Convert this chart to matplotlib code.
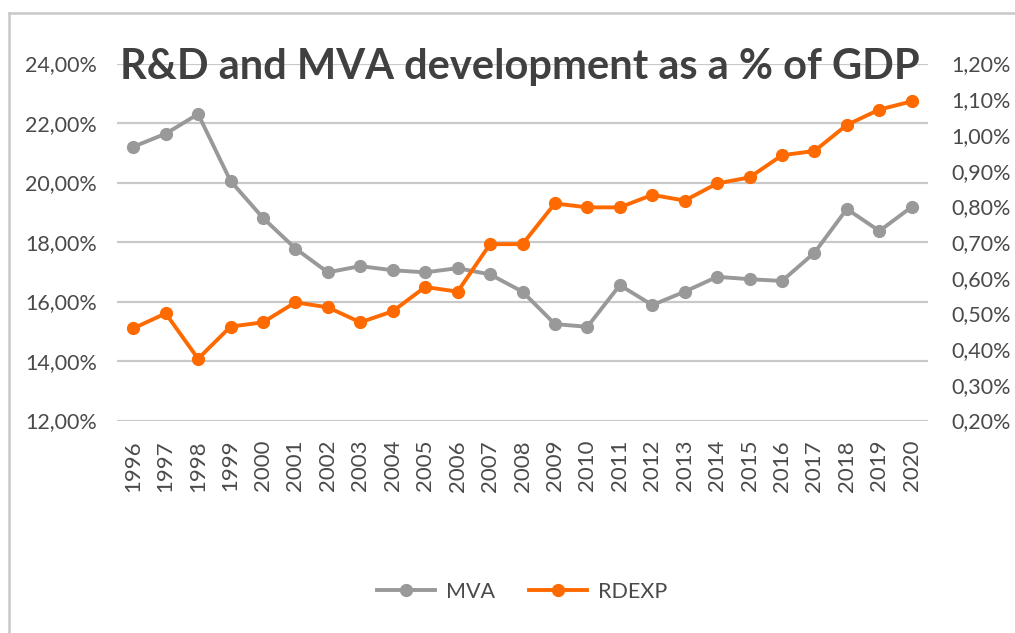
import matplotlib
matplotlib.use("Agg")
import matplotlib.pyplot as plt
from matplotlib.lines import Line2D
from matplotlib.ticker import FuncFormatter, MultipleLocator

years = [str(y) for y in range(1996, 2021)]
mva = [21.20, 21.64, 22.30, 20.05, 18.81, 17.78, 16.98, 17.19, 17.05, 16.98,
       17.12, 16.91, 16.33, 15.24, 15.15, 16.55, 15.88, 16.33, 16.83, 16.75,
       16.69, 17.64, 19.11, 18.37, 19.18]
rdexp = [0.458, 0.500, 0.373, 0.463, 0.475, 0.531, 0.517, 0.475, 0.506, 0.574,
         0.561, 0.694, 0.694, 0.808, 0.797, 0.797, 0.832, 0.816, 0.864, 0.881,
         0.943, 0.955, 1.028, 1.071, 1.094]

plt.rcParams['font.family'] = ['Lato', 'DejaVu Sans']

gray = '#999999'
orange = '#ff6a00'
txt = '#4a4a4a'

fig = plt.figure(figsize=(10.15, 6.33), dpi=100)
ax = fig.add_axes([117/1015, 1 - 420.5/633, 811/1015, 357/633])
ax2 = ax.twinx()

x = list(range(len(years)))
ax.plot(x, mva, color=gray, lw=2.8, marker='o', ms=8.5, zorder=3)
ax2.plot(x, rdexp, color=orange, lw=2.8, marker='o', ms=8.5, zorder=3)

ax.set_xlim(-0.5, len(years) - 0.5)
ax.set_ylim(12, 24)
ax2.set_ylim(0.2, 1.2)
ax.yaxis.set_major_locator(MultipleLocator(2))
ax2.yaxis.set_major_locator(MultipleLocator(0.1))
ax.yaxis.set_major_formatter(FuncFormatter(lambda v, p: f"{v:.2f}%".replace('.', ',')))
ax2.yaxis.set_major_formatter(FuncFormatter(lambda v, p: f"{v:.2f}%".replace('.', ',')))
ax.set_xticks(x)
ax.set_xticklabels(years, rotation=90)

ax.grid(axis='y', color='#c9c9c9', lw=1.6, zorder=0)
ax.set_axisbelow(True)
for a in (ax, ax2):
    for s in a.spines.values():
        s.set_visible(False)
    a.tick_params(length=0, labelsize=15.5, labelcolor=txt)
ax.tick_params(axis='y', pad=14.5)
ax.tick_params(axis='x', pad=14, labelsize=16)
ax2.tick_params(axis='y', pad=17)

fig.text(520/1015, 1 - 67/633, "R&D and MVA development as a % of GDP",
         ha='center', va='center', fontsize=30, fontweight='bold', color='#404040')

handles = [Line2D([], [], color=gray, lw=2.8, marker='o', ms=8.5),
           Line2D([], [], color=orange, lw=2.8, marker='o', ms=8.5)]
fig.legend(handles, ['MVA', 'RDEXP'], loc='center', bbox_to_anchor=(522/1015, 1 - 592/633),
           ncol=2, frameon=False, fontsize=15.5, handlelength=2.7, handletextpad=0.5,
           columnspacing=1.6, labelcolor=txt)

fig.add_artist(Line2D([9/1015, 9/1015], [0, 1 - 13/633], transform=fig.transFigure,
                      color='#c8c8c8', lw=1.8))
fig.add_artist(Line2D([9/1015, 1], [1 - 13/633, 1 - 13/633], transform=fig.transFigure,
                      color='#c8c8c8', lw=1.8))

fig.savefig('out.png', dpi=100, facecolor='white')
